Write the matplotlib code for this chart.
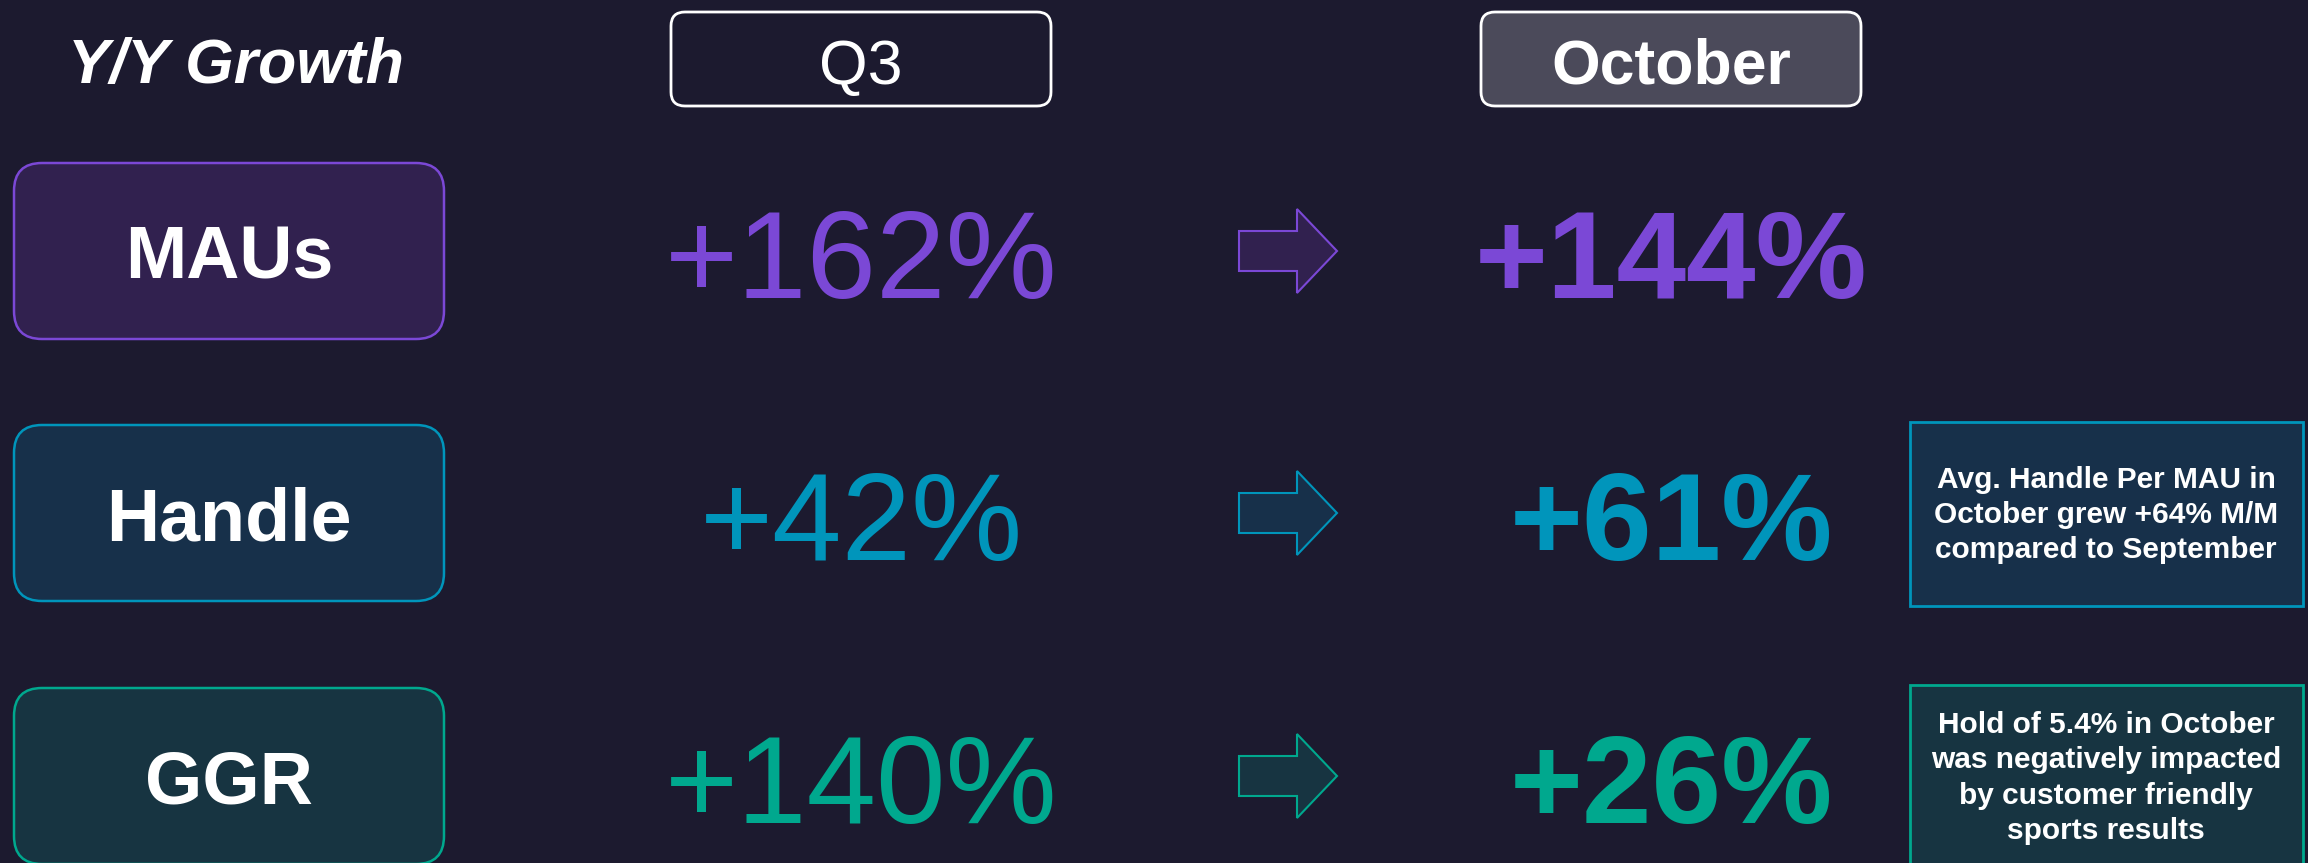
import matplotlib.pyplot as plt
from matplotlib.patches import FancyBboxPatch, Polygon, Rectangle

plt.rcParams['font.family'] = ['Liberation Sans', 'DejaVu Sans']

# Datos del slide
metrics = ['MAUs', 'Handle', 'GGR']
q3_growth = [162, 42, 140]
october_growth = [144, 61, 26]
notes = [None,
         'Avg. Handle Per MAU in\nOctober grew +64% M/M\ncompared to September',
         'Hold of 5.4% in October\nwas negatively impacted\nby customer friendly\nsports results']
periods = ['Q3', 'October']

# Colores
bg = '#1c1a2f'
text_colors = ['#7b48d6', '#0095bb', '#00a88e']
fill_colors = ['#31214f', '#17304a', '#173441']
row_y = [251, 513, 776]

W, H = 2308, 863
fig = plt.figure(figsize=(W / 100, H / 100), dpi=100, facecolor=bg)
ax = fig.add_axes([0, 0, 1, 1])
ax.set_xlim(0, W)
ax.set_ylim(H, 0)
ax.axis('off')
ax.set_facecolor(bg)

# encabezado
ax.text(236, 83, 'Y/Y Growth', color='white', fontsize=45, fontweight='bold',
        fontstyle='italic', ha='center', va='baseline')

col_x = [861, 1671]
for i, p in enumerate(periods):
    box = FancyBboxPatch((col_x[i] - 190, 12), 380, 94,
                         boxstyle='round,pad=0,rounding_size=14',
                         fc=bg if i == 0 else '#4b4a5a', ec='white', lw=2)
    ax.add_patch(box)
    ax.text(col_x[i], 84, p, color='white', fontsize=45,
            fontweight='normal' if i == 0 else 'bold', ha='center', va='baseline')

for i, m in enumerate(metrics):
    cy = row_y[i]
    # caja de la métrica
    box = FancyBboxPatch((14, cy - 88), 430, 176,
                         boxstyle='round,pad=0,rounding_size=28',
                         fc=fill_colors[i], ec=text_colors[i], lw=1.8)
    ax.add_patch(box)
    ax.text(229, cy + 27, m, color='white', fontsize=53, fontweight='bold',
            ha='center', va='baseline')

    # valor Q3
    ax.text(col_x[0], cy + 47, f'+{q3_growth[i]}%', color=text_colors[i],
            fontsize=90, ha='center', va='baseline')

    # flecha
    arrow = Polygon([(1239, cy - 20), (1297, cy - 20), (1297, cy - 42),
                     (1337, cy), (1297, cy + 42), (1297, cy + 20), (1239, cy + 20)],
                    closed=True, fc=fill_colors[i], ec=text_colors[i], lw=1.5)
    ax.add_patch(arrow)

    # valor octubre
    ax.text(col_x[1], cy + 47, f'+{october_growth[i]}%', color=text_colors[i],
            fontsize=90, fontweight='bold', ha='center', va='baseline')

    # nota
    if notes[i]:
        ax.add_patch(Rectangle((1910, cy - 91), 393, 184, fc=fill_colors[i],
                               ec=text_colors[i], lw=2))
        ax.text(2106, cy + 2, notes[i], color='white', fontsize=21.5,
                fontweight='bold', ha='center', va='center', linespacing=1.32)

fig.savefig('out.png', dpi=100, facecolor=bg)
